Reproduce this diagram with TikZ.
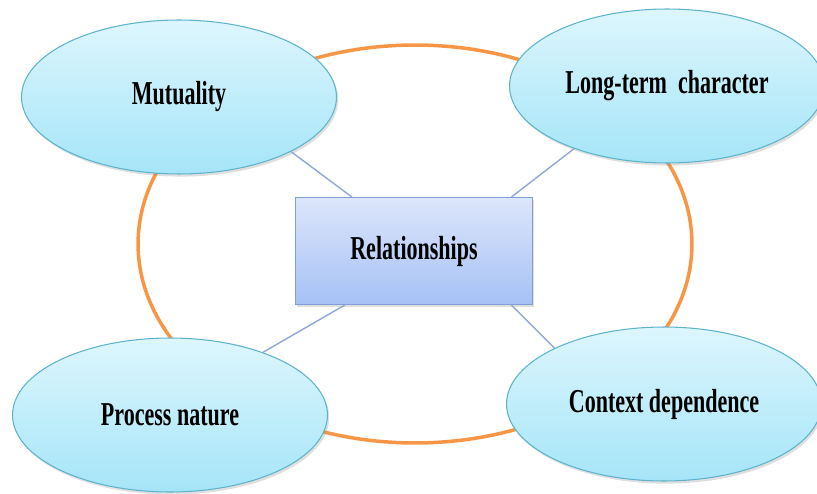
\documentclass[tikz,border=0pt]{standalone}
\usepackage{fontspec}
\newfontfamily\labelfont{Liberation Serif}[FakeStretch=0.66]
\usetikzlibrary{shapes.geometric,shadows}
\definecolor{ringorange}{HTML}{F79646}
\definecolor{bubbletop}{HTML}{DDF6FD}
\definecolor{bubblebottom}{HTML}{A5E5F8}
\definecolor{bubbleedge}{HTML}{5DB3CB}
\definecolor{boxtop}{HTML}{DCE6FB}
\definecolor{boxbottom}{HTML}{A6C1F5}
\definecolor{boxedge}{HTML}{7F9FD5}
\definecolor{linkblue}{HTML}{8EA9D6}
\begin{document}
\begin{tikzpicture}[x=0.02cm, y=-0.02cm]
    \useasboundingbox (0,0) rectangle (817,493);
    \tikzstyle{every node}=[font=\labelfont\bfseries\fontsize{19}{22}\selectfont, text=black, inner sep=0pt]
    \tikzstyle{ring}=[ellipse, draw=ringorange, line width=2pt, minimum width=11.08cm, minimum height=7.96cm]
    \tikzstyle{bubble}=[ellipse, draw=bubbleedge, line width=0.6pt, top color=bubbletop, bottom color=bubblebottom, minimum width=6.3cm, minimum height=3.08cm, drop shadow={shadow xshift=1pt, shadow yshift=-1.5pt, opacity=0.25}]
    \tikzstyle{hub}=[rectangle, draw=boxedge, line width=0.6pt, top color=boxtop, bottom color=boxbottom, minimum width=4.74cm, minimum height=2.14cm, drop shadow={shadow xshift=1pt, shadow yshift=-1.5pt, opacity=0.25}]
    \tikzstyle{edge}=[linkblue, line width=0.8pt]

    \node[ring] (ring) at (415,244) {};

    \node[hub] (rel) at (414,251) {Relationships};
    \node[bubble] (mut) at (179,97) {Mutuality};
    \node[bubble] (lng) at (667,86) {Long-term\ \ character};
    \node[bubble] (proc) at (170,415) {Process nature};
    \node[bubble] (ctx) at (664,404) {Context dependence};

    \draw[edge] (rel.139) -- (mut.-26);
    \draw[edge] (rel.29) -- (lng.214);
    \draw[edge] (rel.218) -- (proc.34);
    \draw[edge] (rel.331) -- (ctx.153);
\end{tikzpicture}
\end{document}
